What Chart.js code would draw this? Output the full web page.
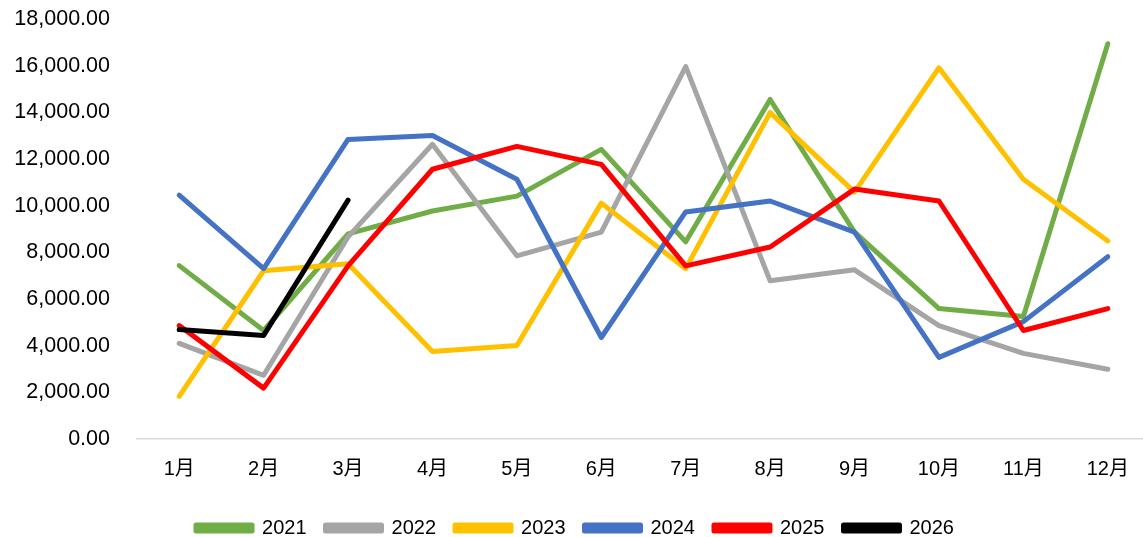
<!DOCTYPE html>
<html>
<head>
<meta charset="utf-8">
<script src="https://cdn.jsdelivr.net/npm/chart.js@4.4.0/dist/chart.umd.min.js"></script>
<style>
  html, body { margin: 0; padding: 0; background: #fff; overflow: hidden; }
  #wrap { width: 1151px; height: 548px; }
</style>
</head>
<body>
<div id="wrap"><canvas id="chart"></canvas></div>
<script>
const months = ['1月', '2月', '3月', '4月', '5月', '6月', '7月', '8月', '9月', '10月', '11月', '12月'];
const years = ['2021', '2022', '2023', '2024', '2025', '2026'];
const colors = ['#70AD47', '#A5A5A5', '#FFC000', '#4472C4', '#FF0000', '#000000'];

const y2021 = [7430, 4650, 8790, 9770, 10410, 12410, 8450, 14550, 8870, 5590, 5250, 16940];
const y2022 = [4100, 2730, 8660, 12630, 7850, 8870, 15960, 6780, 7250, 4860, 3670, 2990];
const y2023 = [1830, 7210, 7510, 3750, 4010, 10110, 7300, 13990, 10580, 15910, 11130, 8490];
const y2024 = [10450, 7300, 12840, 13010, 11130, 4350, 9730, 10200, 8870, 3500, 5030, 7810];
const y2025 = [4860, 2180, 7420, 11560, 12540, 11770, 7420, 8230, 10710, 10200, 4650, 5590];
const y2026 = [4690, 4440, 10240];

const series = [y2021, y2022, y2023, y2024, y2025, y2026];

const fontFamily = '"Liberation Sans", "Noto Sans CJK SC", sans-serif';

const datasets = series.map((data, i) => ({
    label: years[i],
    data: data,
    borderColor: colors[i],
    backgroundColor: colors[i],
    borderWidth: 5,
    pointRadius: 0,
    tension: 0,
    borderJoinStyle: 'round',
    borderCapStyle: 'round',
    order: series.length - i // later years drawn on top
}));

const ctx = document.getElementById('chart').getContext('2d');
new Chart(ctx, {
    type: 'line',
    data: { labels: months, datasets: datasets },
    options: {
        responsive: true,
        maintainAspectRatio: false,
        animation: false,
        layout: { padding: { top: 19, right: 1, bottom: 0, left: 0 } },
        plugins: {
            tooltip: { enabled: false },
            legend: {
                position: 'bottom',
                labels: {
                    boxWidth: 56,
                    boxHeight: 6,
                    padding: 19,
                    color: '#000',
                    font: { family: fontFamily, size: 20 },
                    sort: (a, b) => a.datasetIndex - b.datasetIndex
                }
            }
        },
        scales: {
            x: {
                offset: true,
                grid: { display: false, drawTicks: false },
                border: { display: true, color: '#D9D9D9', width: 1.5 },
                ticks: {
                    color: '#000',
                    padding: 18,
                    maxRotation: 0,
                    font: { family: fontFamily, size: 20 }
                }
            },
            y: {
                min: 0,
                max: 18000,
                grid: { display: false, drawTicks: false },
                border: { display: false },
                afterFit: s => { s.width = 137; s.paddingTop = 0; },
                ticks: {
                    stepSize: 2000,
                    color: '#000',
                    padding: 27,
                    font: { family: fontFamily, size: 21.5 },
                    callback: v => v.toLocaleString('en-US', { minimumFractionDigits: 2, maximumFractionDigits: 2 })
                }
            }
        }
    }
});
</script>
</body>
</html>
